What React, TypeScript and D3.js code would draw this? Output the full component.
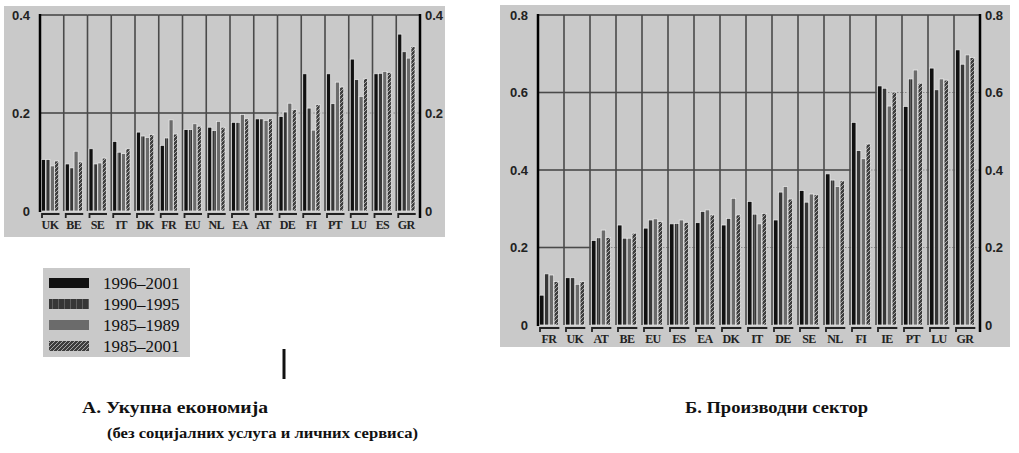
import React from 'react';
import * as d3 from 'd3';

// series (same order in both panels)
const seriesNames = ['1996–2001', '1990–1995', '1985–1989', '1985–2001'];

// A. total economy
const catsA = ['UK', 'BE', 'SE', 'IT', 'DK', 'FR', 'EU', 'NL', 'EA', 'AT', 'DE', 'FI', 'PT', 'LU', 'ES', 'GR'];
const a9601 = [0.105, 0.096, 0.127, 0.142, 0.161, 0.134, 0.166, 0.171, 0.181, 0.188, 0.193, 0.28, 0.28, 0.31, 0.28, 0.361];
const a9095 = [0.105, 0.088, 0.096, 0.12, 0.153, 0.149, 0.166, 0.164, 0.181, 0.188, 0.202, 0.21, 0.219, 0.268, 0.281, 0.325];
const a8589 = [0.092, 0.122, 0.098, 0.117, 0.15, 0.186, 0.178, 0.183, 0.197, 0.185, 0.22, 0.165, 0.263, 0.234, 0.285, 0.312];
const a8501 = [0.102, 0.1, 0.108, 0.127, 0.156, 0.157, 0.173, 0.171, 0.188, 0.188, 0.207, 0.217, 0.253, 0.27, 0.283, 0.336];
const ticksA = [0, 0.2, 0.4];

// B. manufacturing
const catsB = ['FR', 'UK', 'AT', 'BE', 'EU', 'ES', 'EA', 'DK', 'IT', 'DE', 'SE', 'NL', 'FI', 'IE', 'PT', 'LU', 'GR'];
const b9601 = [0.077, 0.122, 0.218, 0.258, 0.25, 0.261, 0.264, 0.258, 0.319, 0.271, 0.347, 0.39, 0.523, 0.617, 0.564, 0.663, 0.71];
const b9095 = [0.132, 0.122, 0.225, 0.224, 0.271, 0.262, 0.293, 0.275, 0.286, 0.343, 0.317, 0.374, 0.45, 0.611, 0.635, 0.607, 0.673];
const b8589 = [0.129, 0.105, 0.245, 0.224, 0.274, 0.271, 0.297, 0.327, 0.261, 0.357, 0.338, 0.357, 0.429, 0.565, 0.658, 0.635, 0.697];
const b8501 = [0.112, 0.112, 0.226, 0.237, 0.267, 0.265, 0.284, 0.284, 0.288, 0.325, 0.336, 0.372, 0.467, 0.601, 0.624, 0.632, 0.69];
const ticksB = [0, 0.2, 0.4, 0.6, 0.8];

const fills = ['#111', 'url(#p9095)', '#6b6b6b', 'url(#p8501)'];
const serif = '"Liberation Serif", "Times New Roman", serif';
const sans = '"Liberation Sans", Arial, sans-serif';

type PanelProps = {
  box: [number, number, number, number];
  x0: number;
  x1: number;
  yTop: number;
  yBase: number;
  cats: string[];
  series: number[][];
  ticks: number[];
  labelSize: number;
};

function Panel({ box, x0, x1, yTop, yBase, cats, series, ticks, labelSize }: PanelProps) {
  const max = ticks[ticks.length - 1];
  const x = d3.scaleBand<string>().domain(cats).range([x0, x1]).padding(0);
  const y = d3.scaleLinear().domain([0, max]).range([yBase, yTop]);
  const bw = x.bandwidth();
  const inner = d3
    .scaleBand<number>()
    .domain(d3.range(series.length))
    .range([1.5, bw * 0.79])
    .paddingInner(0.08);
  const catMax = cats.map((_, i) => d3.max(series, (s) => s[i]) as number);
  const bracketY = yBase + 3;

  return (
    <g>
      <rect x={box[0]} y={box[1]} width={box[2] - box[0]} height={box[3] - box[1]} fill="#c9c9c9" />
      {/* horizontal grid, per category so it hides behind tall bars */}
      {ticks
        .filter((t) => t > 0)
        .map((t) =>
          cats.map((c, i) => {
            const hidden = catMax[i] > t && t < max;
            return (
              <line
                key={`${t}-${c}`}
                x1={x(c)}
                x2={(x(c) as number) + bw}
                y1={y(t)}
                y2={y(t)}
                stroke={hidden ? '#8a8a8a' : '#4a4a4a'}
                strokeWidth={hidden ? 1 : 1.6}
                strokeDasharray={hidden ? '1.5,1.5' : undefined}
              />
            );
          })
        )}
      {/* vertical grid at category boundaries */}
      {cats.slice(1).map((c) => (
        <line key={c} x1={x(c)} x2={x(c)} y1={yTop} y2={yBase} stroke="#4a4a4a" strokeWidth={1.6} />
      ))}
      {/* bars */}
      {cats.map((c, i) =>
        series.map((s, j) => (
          <rect
            key={`${c}-${j}`}
            x={(x(c) as number) + (inner(j) as number)}
            y={y(s[i])}
            width={inner.bandwidth()}
            height={yBase - y(s[i])}
            fill={fills[j]}
            stroke="#ececec"
            strokeWidth={0.7}
          />
        ))
      )}
      {/* axes */}
      <line x1={x0} x2={x0} y1={yTop - 1} y2={yBase + 1} stroke="#000" strokeWidth={2.5} />
      <line x1={x1} x2={x1} y1={yTop - 1} y2={yBase + 7} stroke="#000" strokeWidth={2.5} />
      {ticks.map((t) => (
        <g key={t} fontFamily={sans} fontWeight="bold" fontSize={13} fill="#222">
          <text x={x0 - 10} y={y(t)} dy="0.35em" textAnchor="end">
            {t === 0 ? '0' : t.toFixed(1)}
          </text>
          <text x={x1 + 5} y={y(t)} dy="0.35em" textAnchor="start">
            {t === 0 ? '0' : t.toFixed(1)}
          </text>
        </g>
      ))}
      {/* category brackets and labels */}
      {cats.map((c) => {
        const s = x(c) as number;
        return (
          <g key={c}>
            <path
              d={`M${s + 2},${bracketY + 4}L${s + 2},${bracketY}L${s + bw * 0.82},${bracketY}`}
              fill="none"
              stroke="#222"
              strokeWidth={1.8}
            />
            <text
              x={s + bw * 0.42}
              y={bracketY + 15}
              textAnchor="middle"
              fontFamily={serif}
              fontWeight="bold"
              fontSize={labelSize}
              letterSpacing={-0.6}
              fill="#222"
            >
              {c}
            </text>
          </g>
        );
      })}
    </g>
  );
}

export default function App() {
  const legendY = d3.scalePoint<string>().domain(seriesNames).range([283, 346]);
  return (
    <div style={{ position: 'absolute', left: 0, top: 0 }}>
      <svg width={1019} height={453} style={{ display: 'block', background: '#fff' }}>
        <defs>
          <pattern id="p9095" width={6} height={6} patternUnits="userSpaceOnUse">
            <rect width={6} height={6} fill="#363636" />
            <line x1={4.5} x2={4.5} y1={0} y2={6} stroke="#5e5e5e" strokeWidth={1} />
          </pattern>
          <pattern id="p8501" width={4} height={4} patternUnits="userSpaceOnUse">
            <rect width={4} height={4} fill="#3e3e3e" />
            <path d="M0,4L4,0" stroke="#a8a8a8" strokeWidth={1} />
          </pattern>
        </defs>

        <Panel
          box={[4, 6, 445, 237]}
          x0={40}
          x1={420}
          yTop={15}
          yBase={211}
          cats={catsA}
          series={[a9601, a9095, a8589, a8501]}
          ticks={ticksA}
          labelSize={12}
        />
        <Panel
          box={[500, 5, 1010, 347]}
          x0={538}
          x1={980}
          yTop={15}
          yBase={325}
          cats={catsB}
          series={[b9601, b9095, b8589, b8501]}
          ticks={ticksB}
          labelSize={12}
        />

        {/* legend */}
        <rect x={43} y={268} width={147} height={89} fill="#c9c9c9" />
        {seriesNames.map((n, j) => (
          <g key={n}>
            <rect x={49} y={(legendY(n) as number) - 5} width={40} height={10} fill={fills[j]} />
            <text x={103} y={legendY(n)} dy="0.35em" fontFamily={serif} fontSize={17} fill="#111">
              {n}
            </text>
          </g>
        ))}

        <line x1={284} x2={284} y1={349} y2={379} stroke="#111" strokeWidth={3} />

        <text x={82} y={413} fontFamily={serif} fontWeight="bold" fontSize={17} fill="#111" textLength={186} lengthAdjust="spacingAndGlyphs">
          А. Укупна економија
        </text>
        <text x={107} y={438} fontFamily={serif} fontWeight="bold" fontSize={14} fill="#111" textLength={311} lengthAdjust="spacingAndGlyphs">
          (без социјалних услуга и личних сервиса)
        </text>
        <text x={685} y={413} fontFamily={serif} fontWeight="bold" fontSize={17} fill="#111" textLength={183} lengthAdjust="spacingAndGlyphs">
          Б. Производни сектор
        </text>
      </svg>
    </div>
  );
}
